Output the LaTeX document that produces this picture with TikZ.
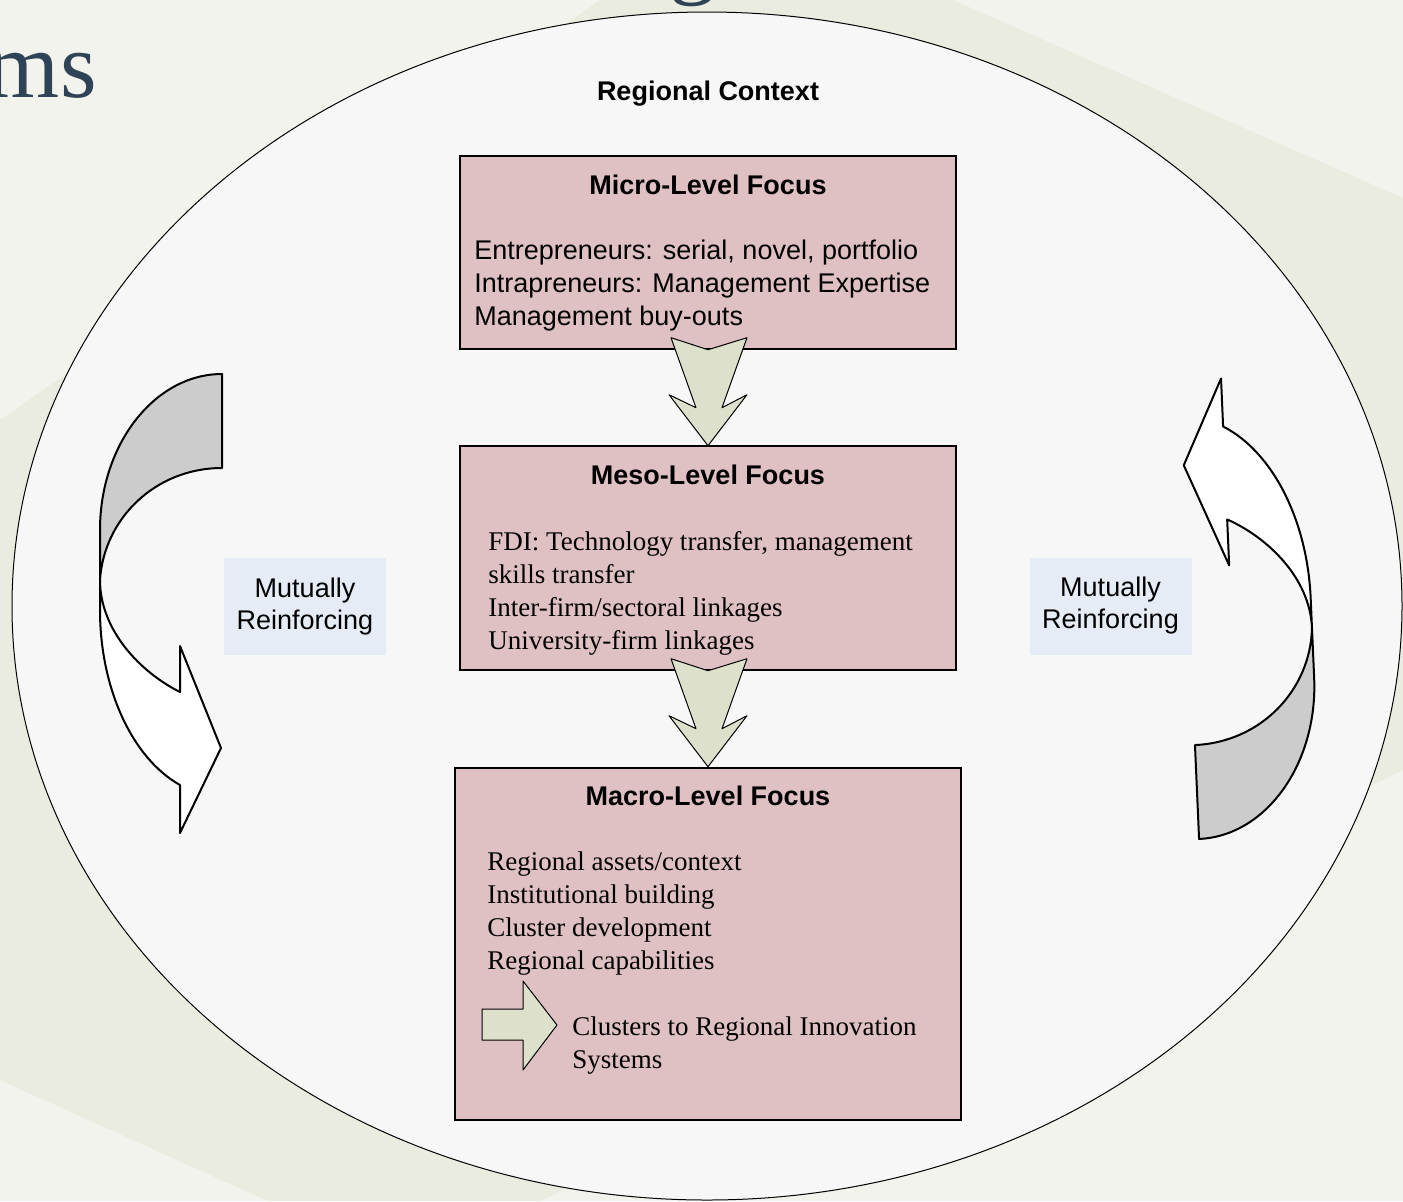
\documentclass[tikz,border=0pt]{standalone}
\usepackage{fontspec}
\setmainfont{Liberation Serif}
\setsansfont{Liberation Sans}
\usetikzlibrary{positioning}
\definecolor{slide}{HTML}{F2F3EC}
\definecolor{band}{HTML}{EAECE0}
\definecolor{oval}{HTML}{F7F7F7}
\definecolor{rose}{HTML}{E0C1C3}
\definecolor{sage}{HTML}{DDE1CB}
\definecolor{ice}{HTML}{E6ECF6}
\definecolor{slate}{HTML}{2E4356}
\tikzset{
x=0.5pt, y=-0.5pt, % one unit is one pixel of the slide, y runs downwards
level/.style={draw=black, line width=0.7pt, fill=rose, inner sep=0pt}, % the three focus boxes
heading/.style={font=\sffamily\bfseries\fontsize{13.5}{16.5}\selectfont, anchor=base, inner sep=0pt},
item/.style={font=\sffamily\fontsize{13.5}{16.5}\selectfont, align=left, anchor=north west, inner sep=0pt},
serifitem/.style={item, font=\rmfamily\fontsize{13.5}{16.5}\selectfont},
tag/.style={fill=ice, minimum width=81pt, minimum height=48.5pt, align=center, font=\sffamily\fontsize{13.5}{16}\selectfont},
flow/.style={draw=black, line width=0.5pt, fill=sage, line join=round},
pics/downflow/.style={code={
  \draw[flow] (0,0) -- (-37,-12) -- (-12,58) -- (-39,45) -- (0,96) -- (39,45) -- (14,58) -- (39,-12) -- cycle;
}},
pics/twist/.style={code={ % ribbon arrow, origin at its middle
  \draw[line width=1pt, fill=gray!40, line join=round] (61,-229.5) .. controls (-6,-229.5) and (-61,-159.5) .. (-61,-73.5)
    -- (-61,-23.5) .. controls (-57,-85.5) and (-5,-135.5) .. (61,-135.5) -- cycle;
  \draw[line width=1pt, fill=white, line join=round] (-61,-23.5) -- (-61,6.5) .. controls (-61,84.5) and (-29,154.5) .. (19,181.5)
    -- (19,229.5) -- (60,144.5) -- (19,42.5) -- (19,88.5) .. controls (-21,68.5) and (-61,26.5) .. (-61,-23.5) -- cycle;
}},
}

\begin{document}
\begin{tikzpicture}
    \useasboundingbox (0,0) rectangle (1403,1201);
    % slide background
    \fill[slide] (0,0) rectangle (1403,1201);
    \fill[band] (600,0) -- (953,0) -- (1403,198) -- (1403,770) -- (541,1201) -- (268,1201) -- (0,1080) -- (0,420) -- cycle;
    \draw[fill=oval, line width=0.5pt] (707,606) ellipse [x radius=347.5pt, y radius=297pt];
    \node[font=\fontsize{47}{50}\selectfont, text=slate, anchor=base east, inner sep=0pt] (title) at (97,97) {ms};
    \node[font=\fontsize{47}{50}\selectfont, text=slate, anchor=base, inner sep=0pt] (titleg) at (693,-14) {g};

    \node[heading] (context) at (708,100) {Regional Context};

    % focus boxes
    \node[level, minimum width=248pt, minimum height=96.5pt] (micro) at (708,252.5) {};
    \node[level, minimum width=248pt, minimum height=112pt] (meso) at (708,558) {};
    \node[level, minimum width=253pt, minimum height=176pt] (macro) at (708,944) {};

    \node[heading] (microhead) at (708,194) {Micro-Level Focus};
    \node[item] (microtext) at (474,240) {Entrepreneurs: serial, novel, portfolio\\Intrapreneurs: Management Expertise\\Management buy-outs};

    \node[heading] (mesohead) at (708,484) {Meso-Level Focus};
    \node[serifitem] (mesotext) at (488,531) {FDI: Technology transfer, management\\skills transfer\\Inter-firm/sectoral linkages\\University-firm linkages};

    \node[heading] (macrohead) at (708,805) {Macro-Level Focus};
    \node[serifitem] (macrotext) at (487,851) {Regional assets/context\\Institutional building\\Cluster development\\Regional capabilities};
    \draw[flow] (482,1009) -- (523,1009) -- (523,981) -- (557,1025) -- (523,1070) -- (523,1040) -- (482,1040) -- cycle;
    \node[serifitem] (ristext) at (572,1016) {Clusters to Regional Innovation\\Systems};

    \pic at (micro.south) {downflow};
    \pic at (meso.south) {downflow};

    % mutual reinforcement
    \pic at (161,603.5) {twist};
    \pic[rotate=182.5] at (1250,607) {twist};
    \node[tag] (lefttag) at (305,606.5) {Mutually\\Reinforcing};
    \node[tag] (righttag) at (1110.5,606) {Mutually\\Reinforcing};
\end{tikzpicture}
\end{document}
